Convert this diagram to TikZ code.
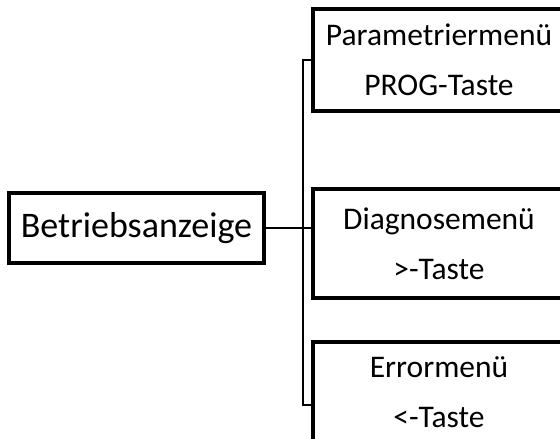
\documentclass[tikz,border=0pt]{standalone}
\usepackage{fontspec}
\setmainfont{Carlito}
\begin{document}
\begin{tikzpicture}[x=1pt,y=-1pt,
  boxline/.style={draw=black,line width=3.4pt},
  mainbox/.style={boxline,rectangle,minimum width=255pt,minimum height=70pt,
    inner sep=0pt,font=\fontsize{36}{40}\selectfont},
  menubox/.style={boxline,rectangle,minimum width=252pt,inner sep=0pt,
    align=center,font=\fontsize{31.5}{50}\selectfont},
  link/.style={draw=black,line width=2.2pt}]
\useasboundingbox (0,0) rectangle (560,439);
\clip (0,0) rectangle (560,439);
% root node
\node[mainbox] (main) at (136.5,228) {Betriebsanzeige};
% menu boxes (their right/bottom edges run past the page edge)
\node[menubox,minimum height=102pt] (param) at (439,60) {Parametriermenü\\PROG-Taste};
\node[menubox,minimum height=109pt] (diag) at (439,243.5) {Diagnosemenü\\>-Taste};
\node[menubox,minimum height=100pt] (err) at (439,392) {Errormenü\\<-Taste};
% bus line
\coordinate (spineTop) at (303,60);
\coordinate (spineBot) at (303,405);
\draw[link] (param.west) -- (spineTop) -- (spineBot) -- (spineBot -| err.west);
\draw[link] (main.east) -- (main.east -| diag.west);
\end{tikzpicture}
\end{document}
